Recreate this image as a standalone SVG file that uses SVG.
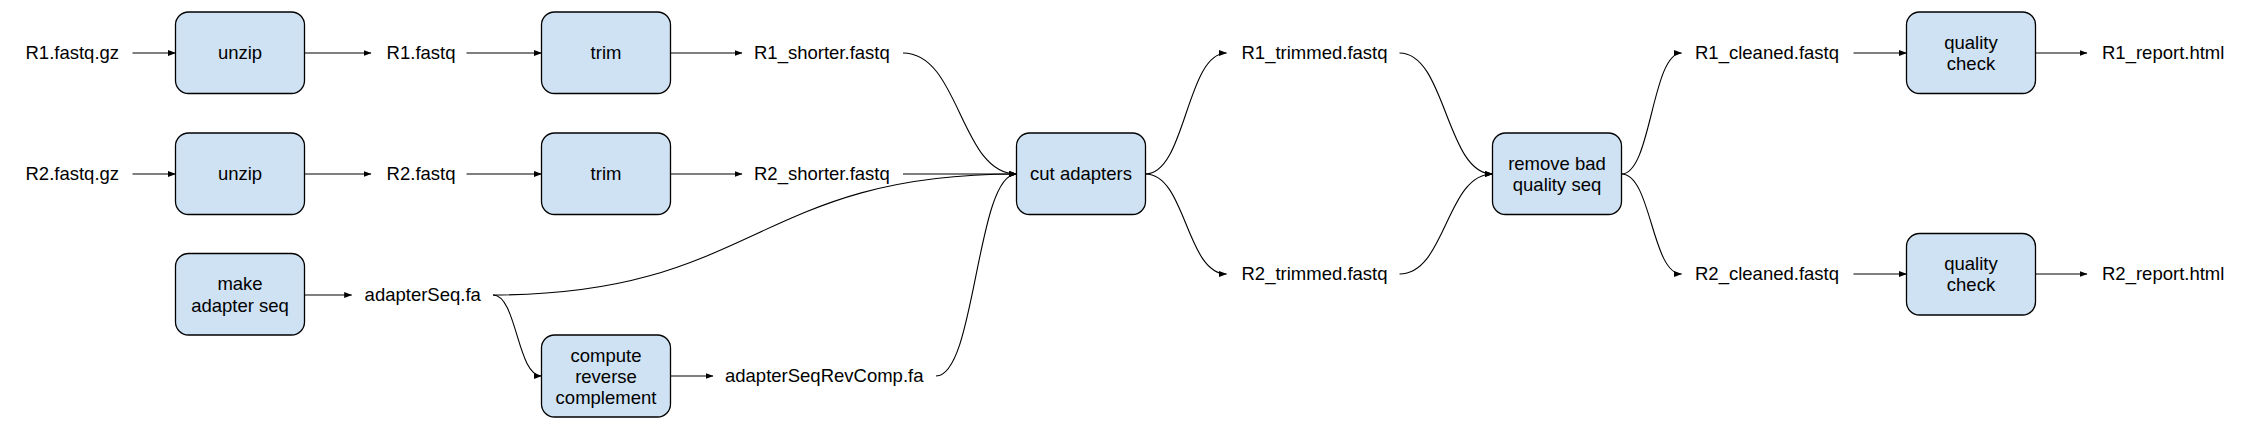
<svg xmlns="http://www.w3.org/2000/svg" width="2243" height="433" viewBox="0 0 2243 433">
<style>
text{font-family:"Liberation Sans",Arial,sans-serif;font-size:18.5px;fill:#000}
.box rect{fill:#cfe2f3;stroke:#000;stroke-width:1.3}
.box text{text-anchor:middle}
#connectors path{fill:none;stroke:#000;stroke-width:1.1;marker-end:url(#ah)}
</style>
<defs>
<marker id="ah" markerUnits="userSpaceOnUse" markerWidth="8" markerHeight="6" refX="7.5" refY="3" orient="auto">
<path d="M0,0 L8,3 L0,6 z" fill="#000"/>
</marker>
</defs>
<rect width="2243" height="433" fill="#fff"/>
<g id="connectors">
<path d="M132.5,53 H175.5"/>
<path d="M304.5,53 H371"/>
<path d="M466.5,53 H541.5"/>
<path d="M670.5,53 H742"/>
<path d="M132.5,174 H175.5"/>
<path d="M304.5,174 H371"/>
<path d="M466.5,174 H541.5"/>
<path d="M670.5,174 H742"/>
<path d="M304.5,295 H351.7"/>
<path d="M670.5,376 H713"/>
<path d="M903,53 C960,53 960,174 1016.5,174"/>
<path d="M903,174 H1016.5"/>
<path d="M493,295 C755,295 755,174 1016.5,174"/>
<path d="M493,295 C517,295 517,376 541.5,376"/>
<path d="M936,376 C976,376 976,174 1016.5,174"/>
<path d="M1145.5,174 C1186,174 1186,53 1226.5,53"/>
<path d="M1145.5,174 C1186,174 1186,274 1226.5,274"/>
<path d="M1399.5,53 C1446,53 1446,174 1492.5,174"/>
<path d="M1399.5,274 C1446,274 1446,174 1492.5,174"/>
<path d="M1621.5,174 C1651.5,174 1651.5,53 1681.5,53"/>
<path d="M1621.5,174 C1651.5,174 1651.5,274 1681.5,274"/>
<path d="M1853.5,53 H1906.5"/>
<path d="M2035.5,53 H2087"/>
<path d="M1853.5,274 H1906.5"/>
<path d="M2035.5,274 H2087"/>
</g>
<g id="r1_fastq_gz"><text x="25.5" y="59.4">R1.fastq.gz</text></g>
<g id="r2_fastq_gz"><text x="25.5" y="180.4">R2.fastq.gz</text></g>
<g id="unzip1" class="box"><rect x="175.5" y="12" width="129" height="81.5" rx="13"/><text x="240" y="59.4">unzip</text></g>
<g id="unzip2" class="box"><rect x="175.5" y="133" width="129" height="81.5" rx="13"/><text x="240" y="180.4">unzip</text></g>
<g id="r1_fastq"><text x="386.6" y="59.4">R1.fastq</text></g>
<g id="r2_fastq"><text x="386.6" y="180.4">R2.fastq</text></g>
<g id="trim1" class="box"><rect x="541.5" y="12" width="129" height="81.5" rx="13"/><text x="606" y="59.4">trim</text></g>
<g id="trim2" class="box"><rect x="541.5" y="133" width="129" height="81.5" rx="13"/><text x="606" y="180.4">trim</text></g>
<g id="r1_shorter"><text x="754" y="59.4">R1_shorter.fastq</text></g>
<g id="r2_shorter"><text x="754" y="180.4">R2_shorter.fastq</text></g>
<g id="make_adapter" class="box"><rect x="175.5" y="253.5" width="129" height="81.5" rx="13"/><text x="240" y="290">make</text><text x="240" y="311.5">adapter seq</text></g>
<g id="adapterseq"><text x="364.6" y="301.4">adapterSeq.fa</text></g>
<g id="compute_rc" class="box"><rect x="541.5" y="335" width="129" height="82" rx="13"/><text x="606" y="361.5">compute</text><text x="606" y="382.5">reverse</text><text x="606" y="403.5">complement</text></g>
<g id="adapterseqrc"><text x="725" y="382.4">adapterSeqRevComp.fa</text></g>
<g id="cut_adapters" class="box"><rect x="1016.5" y="133" width="129" height="81.5" rx="13"/><text x="1081" y="180.4">cut adapters</text></g>
<g id="r1_trimmed"><text x="1241.5" y="59.4">R1_trimmed.fastq</text></g>
<g id="r2_trimmed"><text x="1241.5" y="280.4">R2_trimmed.fastq</text></g>
<g id="remove_bad" class="box"><rect x="1492.5" y="133" width="129" height="81.5" rx="13"/><text x="1557" y="169.5">remove bad</text><text x="1557" y="191">quality seq</text></g>
<g id="r1_cleaned"><text x="1695" y="59.4">R1_cleaned.fastq</text></g>
<g id="r2_cleaned"><text x="1695" y="280.4">R2_cleaned.fastq</text></g>
<g id="qc1" class="box"><rect x="1906.5" y="12" width="129" height="81.5" rx="13"/><text x="1971" y="48.5">quality</text><text x="1971" y="70">check</text></g>
<g id="qc2" class="box"><rect x="1906.5" y="233.5" width="129" height="81.5" rx="13"/><text x="1971" y="269.5">quality</text><text x="1971" y="291">check</text></g>
<g id="r1_report"><text x="2102" y="59.4">R1_report.html</text></g>
<g id="r2_report"><text x="2102" y="280.4">R2_report.html</text></g>
</svg>
